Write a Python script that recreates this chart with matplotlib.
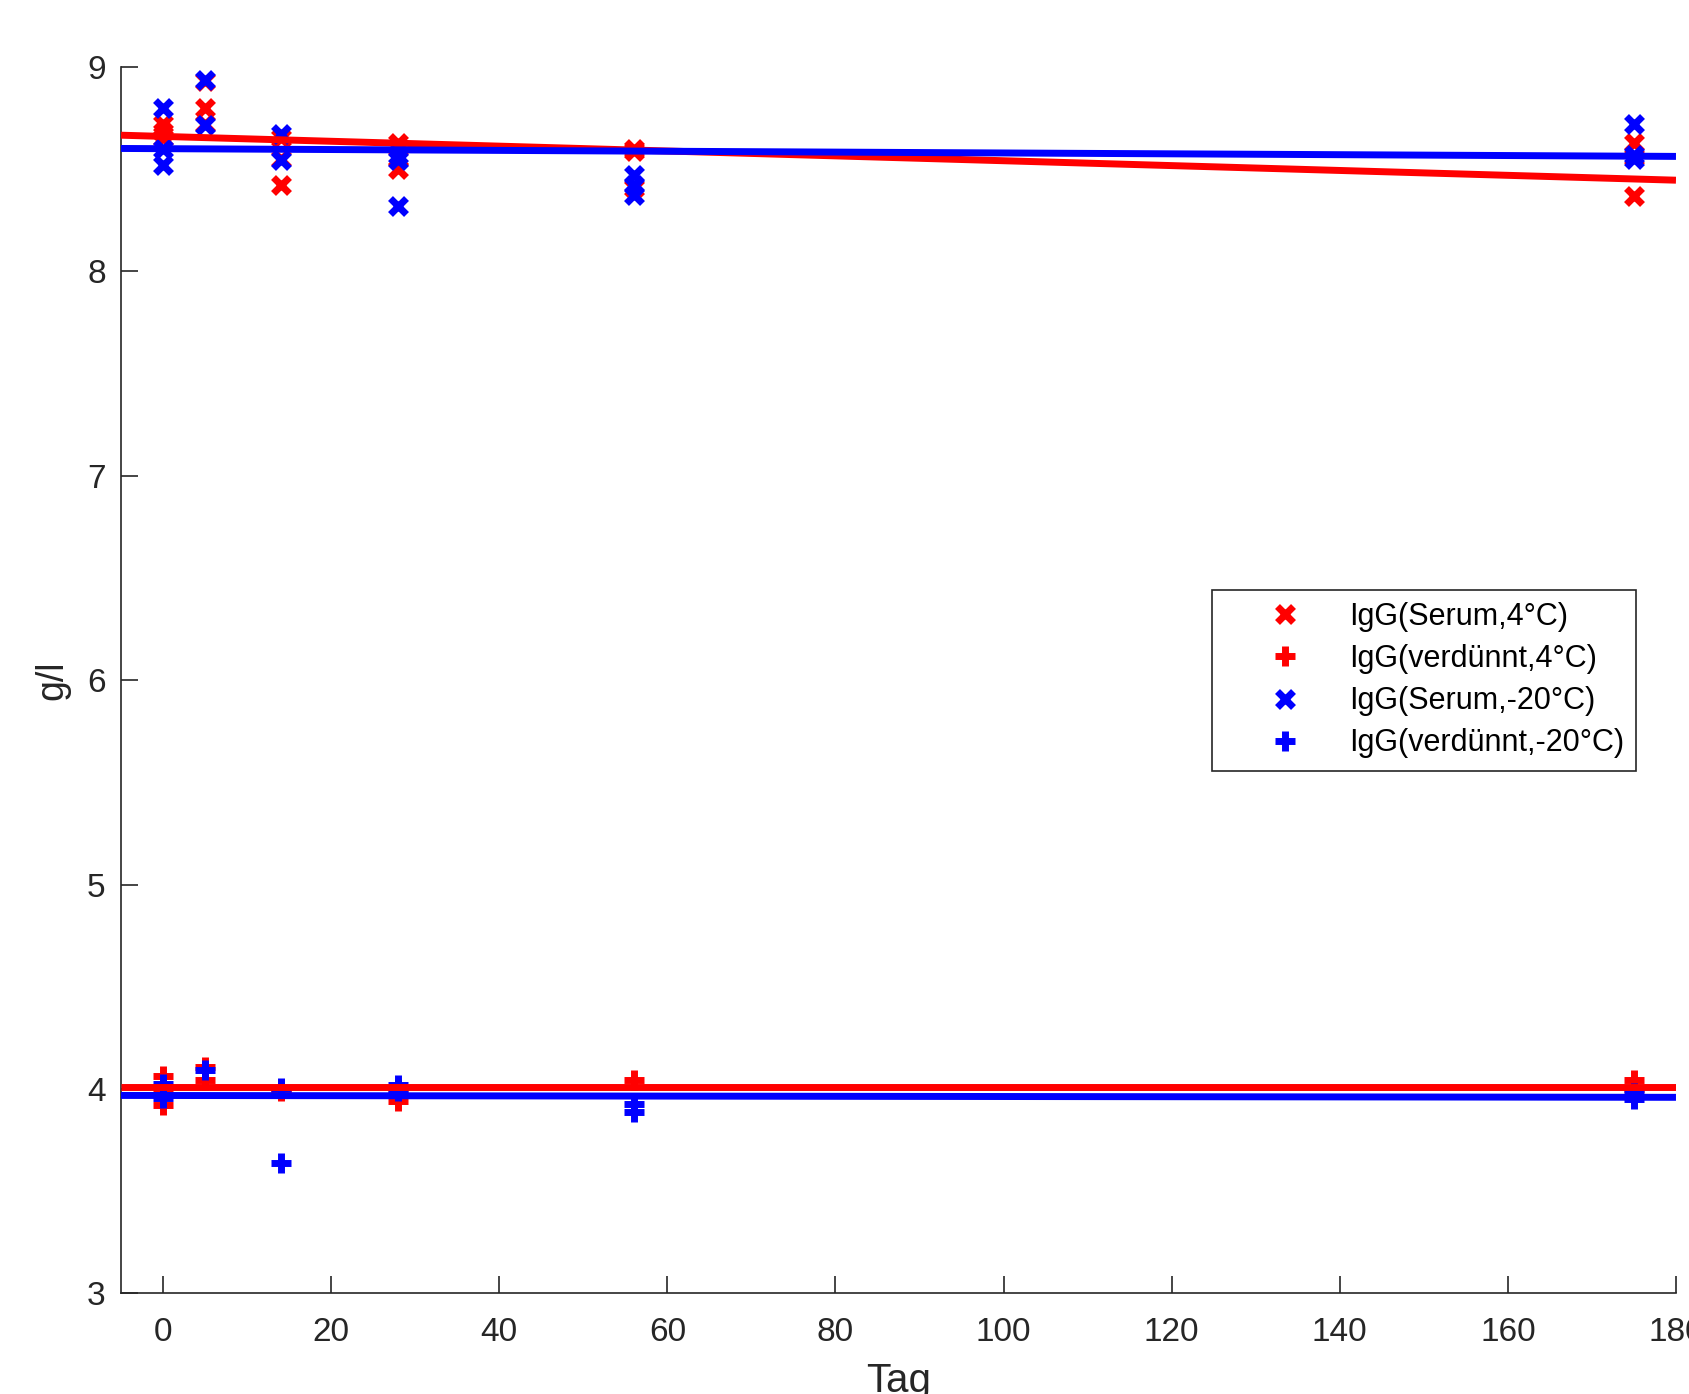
import matplotlib
matplotlib.use("Agg")
import matplotlib.pyplot as plt
import numpy as np

plt.rcParams["font.family"] = ["Liberation Sans", "DejaVu Sans"]

tage_serum_4 = [0, 0, 0, 5, 5, 5, 14, 14, 14, 28, 28, 28, 56, 56, 56, 175, 175, 175]
serum_4 = [8.72, 8.68, 8.65, 8.93, 8.80, 8.72, 8.65, 8.55, 8.42,
           8.63, 8.55, 8.50, 8.60, 8.59, 8.41, 8.63, 8.56, 8.37]

tage_verd_4 = [0, 0, 0, 5, 5, 14, 14, 28, 28, 56, 175, 175]
verd_4 = [4.065, 4.00, 3.92, 4.105, 4.045, 4.00, 3.99, 4.00, 3.94, 4.045, 4.045, 4.00]

tage_serum_20 = [0, 0, 0, 5, 5, 14, 14, 28, 28, 28, 56, 56, 56, 175, 175, 175]
serum_20 = [8.80, 8.60, 8.52, 8.935, 8.715, 8.67, 8.545, 8.57, 8.545, 8.32,
            8.47, 8.42, 8.375, 8.72, 8.57, 8.55]

tage_verd_20 = [0, 0, 5, 14, 14, 28, 28, 56, 56, 175, 175]
verd_20 = [4.025, 3.955, 4.095, 4.005, 3.636, 4.02, 3.99, 3.925, 3.885, 3.98, 3.95]

# Regressionsgeraden (Achsenabschnitt, Steigung)
fit_serum_4 = (8.660, -0.00119)
fit_verd_4 = (4.010, 0.0)
fit_serum_20 = (8.600, -0.00021)
fit_verd_20 = (3.968, -0.00005)

labels = ["IgG(Serum,4°C)", "IgG(verdünnt,4°C)", "IgG(Serum,-20°C)", "IgG(verdünnt,-20°C)"]

fig = plt.figure(figsize=(16.9, 13.94), dpi=100)
ax = fig.add_axes([0.0716, 0.0722, 0.9201, 0.8798])

xlim = (-5, 180)
xx = np.array(xlim)

ms_x, mew_x = 11, 5
ms_p, mew_p = 14, 5

ax.plot(tage_serum_4, serum_4, "x", color="red", ms=ms_x, mew=mew_x, label=labels[0], zorder=3)
ax.plot(tage_verd_4, verd_4, "+", color="red", ms=ms_p, mew=mew_p, label=labels[1], zorder=3)
ax.plot(tage_serum_20, serum_20, "x", color="blue", ms=ms_x, mew=mew_x, label=labels[2], zorder=3)
ax.plot(tage_verd_20, verd_20, "+", color="blue", ms=ms_p, mew=mew_p, label=labels[3], zorder=3)

for (b, m), c in [(fit_serum_4, "red"), (fit_verd_4, "red"),
                  (fit_serum_20, "blue"), (fit_verd_20, "blue")]:
    ax.plot(xx, b + m * xx, color=c, lw=5, solid_capstyle="butt", zorder=4)

ax.set_xlim(xlim)
ax.set_ylim(3, 9)
ax.set_xticks(np.arange(0, 181, 20))
ax.set_yticks(np.arange(3, 10, 1))

gray = "#262626"
for s in ["top", "right"]:
    ax.spines[s].set_visible(False)
for s in ["left", "bottom"]:
    ax.spines[s].set_color(gray)
    ax.spines[s].set_linewidth(1.2)
ax.tick_params(direction="in", length=12, width=1.2, colors=gray, labelsize=24)
ax.tick_params(axis="x", pad=17)
ax.tick_params(axis="y", pad=11)

ax.set_xlabel("Tag", fontsize=29, color=gray, labelpad=10)
ax.set_ylabel("g/l", fontsize=27, color=gray, labelpad=12)

leg = ax.legend(loc="center", bbox_to_anchor=(0.838, 0.5), fontsize=22,
                handlelength=4.0, handletextpad=0.1, borderpad=0.4,
                labelspacing=0.4, fancybox=False, framealpha=1,
                edgecolor=gray)
leg.get_frame().set_linewidth(1.2)

fig.savefig("out.png", dpi=100)
